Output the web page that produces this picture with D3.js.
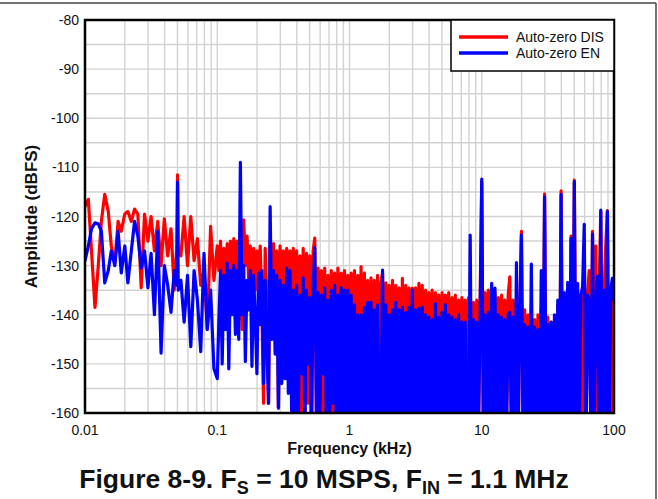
<!DOCTYPE html>
<html><head><meta charset="utf-8">
<script src="https://cdn.jsdelivr.net/npm/d3@7"></script>
<style>body{margin:0;background:#fff}svg{display:block}text{font-family:Arial,"Liberation Sans",sans-serif;fill:#111}</style>
</head><body><svg id="c" width="658" height="499"></svg>
<script>
// Frequency bins (kHz)
const freq = [
0.0100,0.0106,0.0112,0.0119,0.0126,0.0133,0.0141,0.0150,0.0158,0.0168,
0.0178,0.0188,0.0200,0.0211,0.0224,0.0237,0.0251,0.0266,0.0282,0.0299,
0.0316,0.0335,0.0355,0.0376,0.0398,0.0422,0.0447,0.0473,0.0495,0.0501,0.0507,0.0531,0.0562,0.0596,0.0631,0.0668,0.0708,0.0750,0.0794,0.0841,0.0891,0.0944,
0.1000,
0.1029,0.1059,0.1090,0.1122,0.1155,0.1189,0.1223,0.1259,0.1296,0.1334,
0.1372,0.1413,0.1454,0.1496,0.1540,0.1585,0.1631,0.1679,0.1728,0.1778,
0.1830,0.1884,0.1939,0.1995,0.2054,0.2113,0.2175,0.2239,0.2304,0.2371,
0.2441,0.2512,0.2585,0.2661,0.2738,0.2818,0.2901,0.2985,0.3073,0.3162,
0.3255,0.3350,0.3447,0.3548,0.3652,0.3758,0.3868,0.3981,0.4097,0.4217,
0.4340,0.4467,0.4597,0.4732,0.4870,0.5012,0.5158,0.5309,0.5464,0.5623,
0.5788,0.5957,0.6131,0.6310,0.6494,0.6683,0.6879,0.7079,0.7286,0.7499,
0.7718,0.7943,0.8175,0.8414,0.8660,0.8913,0.9173,0.9441,0.9716,1.000,
1.029,1.059,1.090,1.122,1.155,1.189,1.223,1.259,1.296,1.334,
1.372,1.413,1.454,1.496,1.540,1.585,1.631,1.679,1.728,1.778,
1.830,1.884,1.939,1.995,2.054,2.113,2.175,2.239,2.304,2.371,
2.441,2.512,2.585,2.661,2.738,2.818,2.901,2.985,3.073,3.162,
3.255,3.350,3.447,3.548,3.652,3.758,3.868,3.981,4.097,4.217,
4.340,4.467,4.597,4.732,4.870,5.012,5.158,5.309,5.464,5.623,
5.788,5.957,6.131,6.310,6.494,6.683,6.879,7.079,7.286,7.499,
7.718,7.943,8.175,8.414,8.660,8.913,9.173,9.441,9.716,10.00,
10.29,10.59,10.90,11.22,11.55,11.89,12.23,12.59,12.96,13.34,
13.72,14.13,14.54,14.96,15.40,15.85,16.31,16.79,17.28,17.78,
18.30,18.84,19.39,19.95,20.54,21.13,21.75,22.39,23.04,23.71,
24.41,25.12,25.85,26.61,27.38,28.18,29.01,29.85,30.73,31.62,
32.55,33.50,34.47,35.48,36.52,37.58,38.68,39.81,40.97,42.17,
43.40,44.67,45.97,47.32,48.70,50.12,51.58,53.09,54.64,56.23,
57.88,59.57,61.31,63.10,64.94,66.83,68.79,70.79,72.86,74.99,
77.18,79.43,81.75,84.14,86.60,89.13,91.73,94.41,97.16,100.0
];
// Auto-zero DIS amplitude (dBFS)
const ampDIS = [
-118,-116.5,-127,-138.5,-130,-121,-115.5,-119,-126,-129.5,
-121,-123,-119.5,-119,-121,-118.5,-119.5,-134.5,-119.5,-125,
-120,-127,-121,-130,-120.5,-128,-122.5,-135,-126,-111.5,-127,-128,-120,-130,-120,-129,-124.5,-134,-131,-143,-122,-133,
-126,
-131,-125,-138,-126.5,-134,-125.5,-137,-125,-131,-124.5,
-136,-125,-141,-123,-143,-120.7,-130,-124,-133,-126,
-137,-126.5,-135,-127,-133,-126,-139,-158,-126.5,-136,
-158,-126,-140,-125.5,-137,-127,-159,-126,-140,-127,
-142,-126.5,-145,-127,-150,-126.5,-148,-127,-155,-128,
-160,-126.5,-162,-127.5,-158,-128,-164,-127,-124.4,-163,
-130.5,-158,-131,-165,-130.5,-162,-132,-157,-131,-166,
-131.5,-160,-130.5,-165,-131.5,-159,-131,-164,-132,-166,
-131.5,-163,-131,-160,-132,-166,-130.2,-161,-131.5,-165,
-133,-162,-132.5,-167,-133,-163,-132,-166,-133.5,-131.5,
-164,-133.5,-162,-134,-167,-133,-161,-134,-166,-134.5,
-163,-132.6,-168,-134,-162,-134.5,-166,-134.6,-164,-134.5,
-162,-133.6,-167,-134,-161,-135,-166,-135.5,-163,-135,
-168,-135.5,-162,-136,-165,-135.5,-163,-136,-167,-135.5,
-161,-136.5,-166,-136,-162,-137,-168,-136.5,-163,-137,
-165,-136.5,-137,-164,-137.5,-162,-137,-167,-137,-113,
-164,-135.5,-162,-135,-167,-136,-163,-135.5,-166,-136.5,
-161,-136,-165,-137,-163,-136,-132.3,-167,-137,-162,
-137.5,-166,-138.5,-123,-164,-139,-163,-140,-167,-139.5,
-162,-141,-166,-140,-163,-139,-168,-115.4,-162,-140.5,
-165,-141.5,-163,-141,-167,-138,-162,-114.8,-166,-136,
-163,-136.5,-167,-124,-164,-112.6,-162,-135.5,-166,-136,
-163,-134,-166,-135.5,-131,-164,-123,-163,-126,-167,
-135.5,-119,-164,-136,-126,-118.8,-166,-135.5,-163,-136
];
// Auto-zero EN amplitude (dBFS)
const ampEN = [
-129,-126,-122.5,-121.3,-121.5,-123,-133.5,-131,-127,-130,
-123,-131.5,-126,-133.5,-127,-121,-124,-130.5,-127,-134.5,
-127.5,-140,-123,-147.8,-130,-134,-139.5,-131,-134,-113,-135,-133,-141.5,-132,-146.5,-131,-137,-147.5,-127.5,-143,-135,-151,
-153,
-141,-131,-150,-132,-143,-129.5,-151,-131,-140,-130,
-144,-131,-145,-109,-140,-130,-149.5,-133,-139,-131,
-150.5,-132,-141,-152,-131.5,-142,-131,-154,-133,-146,
-158,-118,-145,-131,-148,-132,-159,-133,-154,-134,
-153,-130.5,-156,-131,-160,-135,-165,-134,-163,-136,
-152,-132.5,-165,-135,-150,-136.5,-166,-134,-126.4,-160,
-135.5,-165,-136,-152,-134.5,-166,-137,-163,-135,-158,
-134,-167,-136,-162,-134.5,-166,-135,-161,-135,-168,
-136,-165,-138,-166,-140,-163,-140,-167,-138.5,-164,
-137.5,-166,-137.5,-162,-139,-168,-138,-164,-160,-130.9,
-167,-138,-165,-140,-163,-139,-167,-137.5,-164,-139,
-168,-138.5,-162,-139.5,-166,-138.5,-164,-135,-167,-139,
-165,-138.7,-163,-138.5,-167,-140,-164,-140.5,-168,-141,
-162,-137.8,-166,-140.5,-164,-139.5,-168,-138,-163,-140,
-167,-140.5,-162,-141,-166,-140,-164,-141.5,-167,-141.5,
-163,-165,-123.8,-166,-141,-167,-141.5,-163,-141,-112.4,
-166,-140,-164,-139.5,-167,-133.6,-165,-134.6,-168,-140,
-163,-140.5,-167,-141,-164,-140,-139.5,-166,-140.5,-163,
-129.4,-167,-141,-123.8,-165,-142,-168,-142.5,-163,-129.7,
-166,-142.5,-164,-143,-167,-131,-165,-116,-163,-142,
-167,-141.5,-164,-140,-168,-137,-163,-115.5,-166,-135.5,
-164,-133.4,-167,-124.5,-163,-112.9,-166,-133.6,-164,-136,
-134.3,-121.6,-167,-136,-137,-165,-123.6,-166,-136.5,-132.2,
-165,-118.7,-167,-135,-164,-119,-166,-135,-132.6,-137
];
const seriesNames = ["Auto-zero DIS", "Auto-zero EN"];
const seriesColors = ["#ff0000", "#0000ff"];
const xTickValues = [0.01, 0.1, 1, 10, 100];
const xTickLabels = ["0.01", "0.1", "1", "10", "100"];
const yTickValues = [-80, -90, -100, -110, -120, -130, -140, -150, -160];

const L = 85, T = 20, R = 614, B = 413;
const x = d3.scaleLog().domain([0.01, 100]).range([L, R]);
const y = d3.scaleLinear().domain([-160, -80]).range([B, T]);
const svg = d3.select("#c");

// outer frame lines
svg.append("line").attr("x1", 0).attr("x2", 656).attr("y1", 3).attr("y2", 3).attr("stroke", "#444").attr("stroke-width", 1.5);
svg.append("line").attr("x1", 656).attr("x2", 656).attr("y1", 3).attr("y2", 499).attr("stroke", "#444").attr("stroke-width", 1.5);

// grid
const grid = svg.append("g").attr("stroke", "#d2d2d2").attr("stroke-width", 1.4);
grid.selectAll("line.gx").data(x.ticks()).join("line")
  .attr("x1", d => x(d)).attr("x2", d => x(d)).attr("y1", T).attr("y2", B);
grid.selectAll("line.gy").data(d3.range(-160, -79, 5)).join("line")
  .attr("x1", L).attr("x2", R).attr("y1", d => y(d)).attr("y2", d => y(d));

// clip
svg.append("clipPath").attr("id", "clip").append("rect")
  .attr("x", L).attr("y", T).attr("width", R - L).attr("height", B - T);

const line = d3.line().x(d => x(d[0])).y(d => y(d[1]));
const n = Math.min(freq.length, ampDIS.length, ampEN.length);
const series = [ampDIS, ampEN].map(a => d3.range(n).map(i => [freq[i], a[i]]));
const plot = svg.append("g").attr("clip-path", "url(#clip)");
series.forEach((s, i) => {
  plot.append("path").datum(s).attr("d", line).attr("fill", "none")
    .attr("stroke", seriesColors[i]).attr("stroke-width", 3.2)
    .attr("stroke-linejoin", "round").attr("stroke-linecap", "round");
});

// frame
svg.append("rect").attr("x", L).attr("y", T).attr("width", R - L).attr("height", B - T)
  .attr("fill", "none").attr("stroke", "#000").attr("stroke-width", 2.5);

// tick labels
svg.append("g").selectAll("text").data(yTickValues).join("text")
  .attr("x", 79).attr("y", d => y(d) + 5).attr("text-anchor", "end")
  .attr("font-size", 14).text(d => d);
svg.append("g").selectAll("text").data(xTickValues).join("text")
  .attr("x", d => x(d)).attr("y", 435).attr("text-anchor", "middle")
  .attr("font-size", 14).text((d, i) => xTickLabels[i]);

// axis titles
svg.append("text").attr("x", (L + R) / 2).attr("y", 454).attr("text-anchor", "middle")
  .attr("font-size", 16).attr("font-weight", "bold").text("Frequency (kHz)");
svg.append("text").attr("transform", `translate(37,${(T + B) / 2}) rotate(-90)`)
  .attr("text-anchor", "middle").attr("font-size", 17).attr("font-weight", "bold").text("Amplitude (dBFS)");

// legend
const lg = svg.append("g");
lg.append("rect").attr("x", 451).attr("y", T).attr("width", R - 451).attr("height", 51)
  .attr("fill", "#fff").attr("stroke", "#000").attr("stroke-width", 1.5);
seriesNames.forEach((nm, i) => {
  const yy = 37 + i * 16;
  lg.append("line").attr("x1", 459).attr("x2", 508).attr("y1", yy).attr("y2", yy)
    .attr("stroke", seriesColors[i]).attr("stroke-width", 3.5);
  lg.append("text").attr("x", 516).attr("y", yy + 5).attr("font-size", 14).text(nm);
});

// figure title
const t = svg.append("text").attr("x", 324).attr("y", 488).attr("text-anchor", "middle")
  .attr("font-size", 26.5).attr("font-weight", "bold");
t.append("tspan").text("Figure 8-9. F");
t.append("tspan").attr("font-size", 18).attr("dy", 6).text("S");
t.append("tspan").attr("dy", -6).text(" = 10 MSPS, F");
t.append("tspan").attr("font-size", 18).attr("dy", 6).text("IN");
t.append("tspan").attr("dy", -6).text(" = 1.1 MHz");
</script></body></html>
